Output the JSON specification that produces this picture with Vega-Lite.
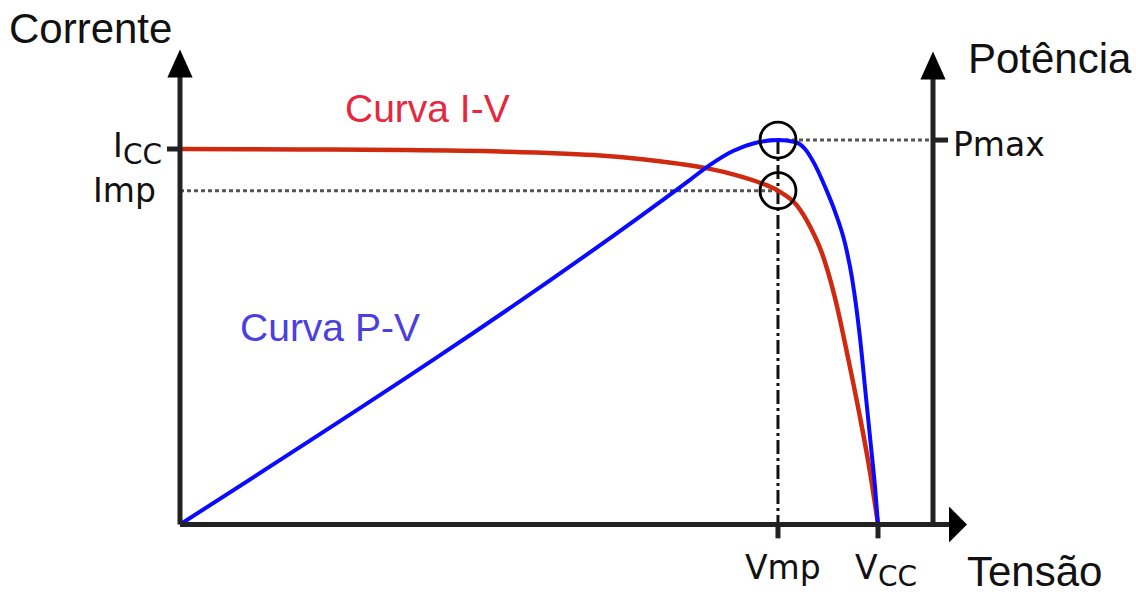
{
  "$schema": "https://vega.github.io/schema/vega-lite/v6.json",
  "width": 1136,
  "height": 594,
  "padding": 0,
  "autosize": {"type": "fit", "contains": "padding"},
  "background": "white",
  "config": {"view": {"stroke": null}},
  "datasets": {
    "iv": [
      {"V": 0, "I": 100}, {"V": 17.19, "I": 99.87}, {"V": 31.52, "I": 99.74}, {"V": 45.85, "I": 99.34},
      {"V": 54.44, "I": 98.81}, {"V": 60.17, "I": 98.28}, {"V": 65.9, "I": 97.35}, {"V": 71.63, "I": 96.03},
      {"V": 75.93, "I": 94.71}, {"V": 79.51, "I": 93.12}, {"V": 83.09, "I": 91.01}, {"V": 85.67, "I": 88.89},
      {"V": 88.4, "I": 84.92}, {"V": 90.26, "I": 79.37}, {"V": 91.98, "I": 72.22}, {"V": 93.84, "I": 60.32},
      {"V": 95.7, "I": 44.44}, {"V": 97.42, "I": 28.57}, {"V": 98.85, "I": 14.02}, {"V": 100, "I": 0}
    ],
    "pv": [
      {"V": 0, "P": 0}, {"V": 73.07, "P": 89.66}, {"V": 75.93, "P": 93.54}, {"V": 79.23, "P": 97.16},
      {"V": 82.38, "P": 99.22}, {"V": 85.67, "P": 100}, {"V": 88.11, "P": 99.48}, {"V": 89.54, "P": 97.67},
      {"V": 90.97, "P": 93.54}, {"V": 92.41, "P": 87.86}, {"V": 93.84, "P": 81.4}, {"V": 95.27, "P": 73.13},
      {"V": 96.28, "P": 64.08}, {"V": 97.42, "P": 48.58}, {"V": 98.28, "P": 33.07}, {"V": 99.0, "P": 20.16},
      {"V": 99.57, "P": 9.82}, {"V": 100, "P": 0}
    ],
    "guidesP": [
      {"kind": "dotted", "V": 85.67, "V2": 107.88, "P": 100, "P2": 100},
      {"kind": "dashdot", "V": 85.67, "V2": 85.67, "P": 100, "P2": 0}
    ],
    "guidesI": [
      {"V": 0, "V2": 85.67, "I": 88.89, "I2": 88.89}
    ],
    "axes": [
      {"V": 0, "V2": 0, "I": 0, "I2": 122.75},
      {"V": 0, "V2": 111.46, "I": 0, "I2": 0},
      {"V": 107.88, "V2": 107.88, "I": -0.5, "I2": 122.22},
      {"V": -1.86, "V2": 0, "I": 100, "I2": 100},
      {"V": 107.88, "V2": 110.03, "I": 102.38, "I2": 102.38},
      {"V": 85.67, "V2": 85.67, "I": 0, "I2": -3.7},
      {"V": 100, "V2": 100, "I": 0, "I2": -3.7}
    ],
    "arrows": [
      {"dir": "up", "V": 0, "I": 122.75},
      {"dir": "up", "V": 107.88, "I": 122.22},
      {"dir": "right", "V": 111.46, "I": 0}
    ],
    "circles": [
      {"V": 85.67, "I": 102.38},
      {"V": 85.67, "I": 88.89}
    ],
    "labels": [
      {"kind": "title", "text": "Corrente", "V": -24.5, "I": 128.31},
      {"kind": "title", "text": "Potência", "V": 112.89, "I": 120.37},
      {"kind": "title", "text": "Tensão", "V": 112.75, "I": -16.4},
      {"kind": "iv", "text": "Curva I-V", "V": 23.64, "I": 107.14},
      {"kind": "pv", "text": "Curva P-V", "V": 8.6, "I": 48.94},
      {"kind": "mark", "text": "I", "V": -9.6, "I": 97.88},
      {"kind": "mark", "text": "Imp", "V": -12.46, "I": 85.98},
      {"kind": "mark", "text": "Pmax", "V": 110.74, "I": 98.15},
      {"kind": "mark", "text": "Vmp", "V": 80.95, "I": -14.55},
      {"kind": "mark", "text": "V", "V": 96.7, "I": -14.55},
      {"kind": "sub", "text": "CC", "V": -8.17, "I": 96.03},
      {"kind": "sub", "text": "CC", "V": 100.0, "I": -16.4}
    ]
  },
  "resolve": {"scale": {"y": "independent"}},
  "layer": [
    {
      "data": {"name": "guidesI"},
      "mark": {"type": "rule", "color": "#555555", "strokeWidth": 3, "strokeDash": [4, 3]},
      "encoding": {
        "x": {"field": "V", "type": "quantitative", "axis": null, "scale": {"domain": [-25.788, 136.963], "nice": false, "zero": false}},
        "x2": {"field": "V2"},
        "y": {"field": "I", "type": "quantitative", "axis": null, "scale": {"domain": [-17.46, 139.683], "nice": false, "zero": false}},
        "y2": {"field": "I2"}
      }
    },
    {
      "data": {"name": "guidesP"},
      "transform": [{"filter": "datum.kind === 'dotted'"}],
      "mark": {"type": "rule", "color": "#555555", "strokeWidth": 3, "strokeDash": [4, 3]},
      "encoding": {
        "x": {"field": "V", "type": "quantitative", "axis": null, "scale": {"domain": [-25.788, 136.963], "nice": false, "zero": false}},
        "x2": {"field": "V2"},
        "y": {"field": "P", "type": "quantitative", "axis": null, "scale": {"domain": [-17.054, 136.434], "nice": false, "zero": false}},
        "y2": {"field": "P2"}
      }
    },
    {
      "data": {"name": "guidesP"},
      "transform": [{"filter": "datum.kind === 'dashdot'"}],
      "mark": {"type": "rule", "color": "#111111", "strokeWidth": 3, "strokeDash": [14, 4, 3, 4]},
      "encoding": {
        "x": {"field": "V", "type": "quantitative", "axis": null, "scale": {"domain": [-25.788, 136.963], "nice": false, "zero": false}},
        "x2": {"field": "V2"},
        "y": {"field": "P", "type": "quantitative", "axis": null, "scale": {"domain": [-17.054, 136.434], "nice": false, "zero": false}},
        "y2": {"field": "P2"}
      }
    },
    {
      "data": {"name": "iv"},
      "mark": {"type": "line", "color": "#cf2a10", "strokeWidth": 4.5, "interpolate": "monotone"},
      "encoding": {
        "x": {"field": "V", "type": "quantitative", "axis": null, "scale": {"domain": [-25.788, 136.963], "nice": false, "zero": false}},
        "y": {"field": "I", "type": "quantitative", "axis": null, "scale": {"domain": [-17.46, 139.683], "nice": false, "zero": false}}
      }
    },
    {
      "data": {"name": "pv"},
      "mark": {"type": "line", "color": "#0a0aff", "strokeWidth": 4, "interpolate": "monotone"},
      "encoding": {
        "x": {"field": "V", "type": "quantitative", "axis": null, "scale": {"domain": [-25.788, 136.963], "nice": false, "zero": false}},
        "y": {"field": "P", "type": "quantitative", "axis": null, "scale": {"domain": [-17.054, 136.434], "nice": false, "zero": false}}
      }
    },
    {
      "data": {"name": "axes"},
      "mark": {"type": "rule", "color": "#222222", "strokeWidth": 5},
      "encoding": {
        "x": {"field": "V", "type": "quantitative", "axis": null, "scale": {"domain": [-25.788, 136.963], "nice": false, "zero": false}},
        "x2": {"field": "V2"},
        "y": {"field": "I", "type": "quantitative", "axis": null, "scale": {"domain": [-17.46, 139.683], "nice": false, "zero": false}},
        "y2": {"field": "I2"}
      }
    },
    {
      "data": {"name": "arrows"},
      "transform": [{"filter": "datum.dir === 'up'"}],
      "mark": {"type": "point", "shape": "M0,-1L-0.9,1L0.9,1Z", "size": 784, "filled": true, "color": "#000000", "opacity": 1},
      "encoding": {
        "x": {"field": "V", "type": "quantitative", "axis": null, "scale": {"domain": [-25.788, 136.963], "nice": false, "zero": false}},
        "y": {"field": "I", "type": "quantitative", "axis": null, "scale": {"domain": [-17.46, 139.683], "nice": false, "zero": false}}
      }
    },
    {
      "data": {"name": "arrows"},
      "transform": [{"filter": "datum.dir === 'right'"}],
      "mark": {"type": "point", "shape": "M0.5,0L-0.5,-1L-0.5,1Z", "size": 1296, "filled": true, "color": "#000000", "opacity": 1},
      "encoding": {
        "x": {"field": "V", "type": "quantitative", "axis": null, "scale": {"domain": [-25.788, 136.963], "nice": false, "zero": false}},
        "y": {"field": "I", "type": "quantitative", "axis": null, "scale": {"domain": [-17.46, 139.683], "nice": false, "zero": false}}
      }
    },
    {
      "data": {"name": "circles"},
      "mark": {"type": "point", "shape": "circle", "size": 1296, "filled": false, "stroke": "#000000", "strokeWidth": 2.8, "opacity": 1},
      "encoding": {
        "x": {"field": "V", "type": "quantitative", "axis": null, "scale": {"domain": [-25.788, 136.963], "nice": false, "zero": false}},
        "y": {"field": "I", "type": "quantitative", "axis": null, "scale": {"domain": [-17.46, 139.683], "nice": false, "zero": false}}
      }
    },
    {
      "data": {"name": "labels"},
      "transform": [{"filter": "datum.kind === 'title'"}],
      "mark": {"type": "text", "font": "Liberation Sans", "fontSize": 42, "align": "left", "baseline": "alphabetic", "color": "#111111"},
      "encoding": {
        "x": {"field": "V", "type": "quantitative", "axis": null, "scale": {"domain": [-25.788, 136.963], "nice": false, "zero": false}},
        "y": {"field": "I", "type": "quantitative", "axis": null, "scale": {"domain": [-17.46, 139.683], "nice": false, "zero": false}},
        "text": {"field": "text"}
      }
    },
    {
      "data": {"name": "labels"},
      "transform": [{"filter": "datum.kind === 'iv'"}],
      "mark": {"type": "text", "font": "Liberation Sans", "fontSize": 39, "align": "left", "baseline": "alphabetic", "color": "#e6283e"},
      "encoding": {
        "x": {"field": "V", "type": "quantitative", "axis": null, "scale": {"domain": [-25.788, 136.963], "nice": false, "zero": false}},
        "y": {"field": "I", "type": "quantitative", "axis": null, "scale": {"domain": [-17.46, 139.683], "nice": false, "zero": false}},
        "text": {"field": "text"}
      }
    },
    {
      "data": {"name": "labels"},
      "transform": [{"filter": "datum.kind === 'pv'"}],
      "mark": {"type": "text", "font": "Liberation Sans", "fontSize": 39, "align": "left", "baseline": "alphabetic", "color": "#4b3fe0"},
      "encoding": {
        "x": {"field": "V", "type": "quantitative", "axis": null, "scale": {"domain": [-25.788, 136.963], "nice": false, "zero": false}},
        "y": {"field": "I", "type": "quantitative", "axis": null, "scale": {"domain": [-17.46, 139.683], "nice": false, "zero": false}},
        "text": {"field": "text"}
      }
    },
    {
      "data": {"name": "labels"},
      "transform": [{"filter": "datum.kind === 'mark'"}],
      "mark": {"type": "text", "font": "DejaVu Sans", "fontSize": 33, "align": "left", "baseline": "alphabetic", "color": "#111111"},
      "encoding": {
        "x": {"field": "V", "type": "quantitative", "axis": null, "scale": {"domain": [-25.788, 136.963], "nice": false, "zero": false}},
        "y": {"field": "I", "type": "quantitative", "axis": null, "scale": {"domain": [-17.46, 139.683], "nice": false, "zero": false}},
        "text": {"field": "text"}
      }
    },
    {
      "data": {"name": "labels"},
      "transform": [{"filter": "datum.kind === 'sub'"}],
      "mark": {"type": "text", "font": "DejaVu Sans", "fontSize": 28, "align": "left", "baseline": "alphabetic", "color": "#111111"},
      "encoding": {
        "x": {"field": "V", "type": "quantitative", "axis": null, "scale": {"domain": [-25.788, 136.963], "nice": false, "zero": false}},
        "y": {"field": "I", "type": "quantitative", "axis": null, "scale": {"domain": [-17.46, 139.683], "nice": false, "zero": false}},
        "text": {"field": "text"}
      }
    }
  ]
}
